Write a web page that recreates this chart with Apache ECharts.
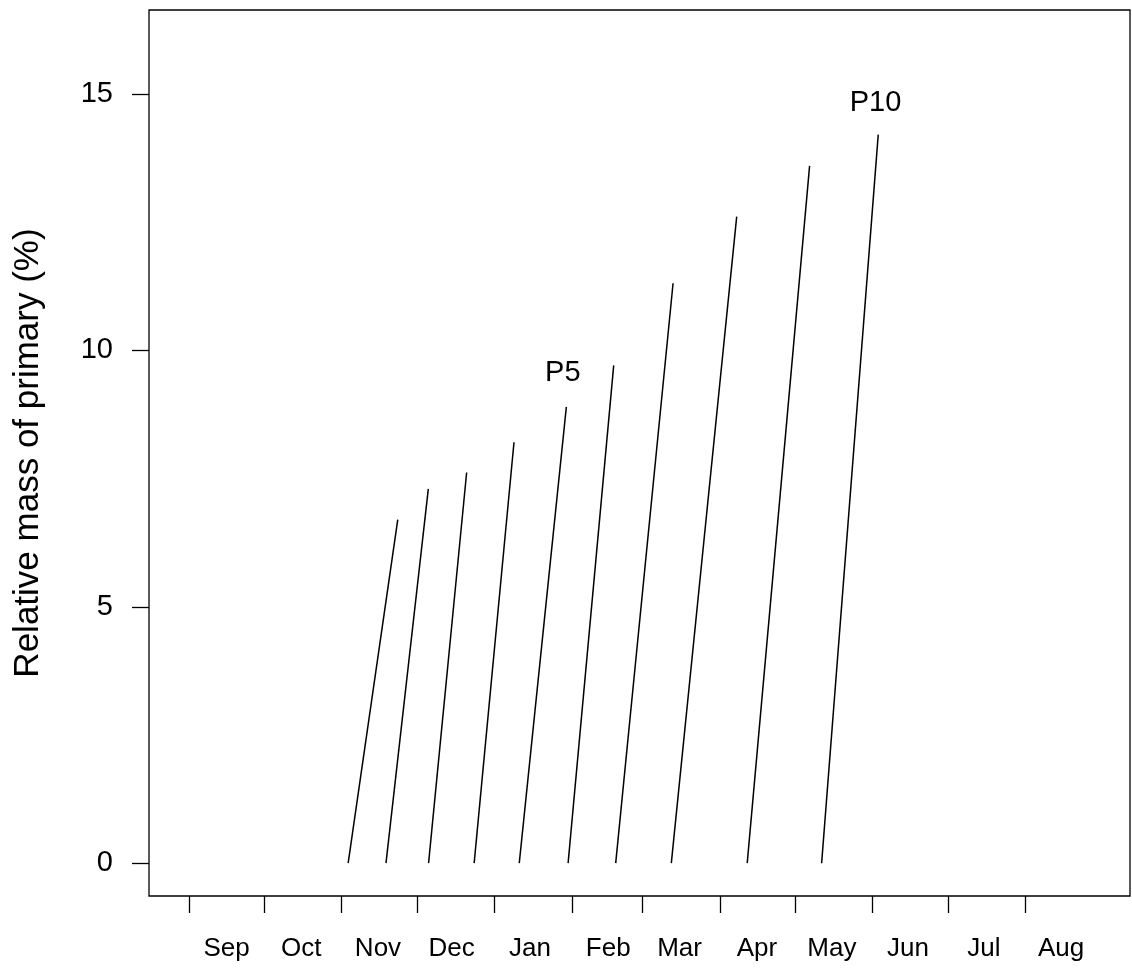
<!DOCTYPE html>
<html>
<head>
<meta charset="utf-8">
<title>Relative mass of primary</title>
<script src="https://cdn.jsdelivr.net/npm/echarts@6/dist/echarts.min.js"></script>
<style>
  html, body { margin: 0; padding: 0; background: #ffffff; }
  #chart { width: 1132px; height: 968px; }
</style>
</head>
<body>
<div id="chart"></div>
<script>
// Growth of each primary feather: day (counted from 1 Sep) when growth starts,
// day when it is fully grown, and its final relative mass (%).
const primaryStartDay = [63.6, 78.7, 95.7, 113.9, 131.9, 151.4, 170.4, 192.6, 222.9, 252.6];
const primaryEndDay   = [83.4, 95.6, 110.9, 129.8, 150.7, 169.6, 193.3, 218.7, 247.8, 275.2];
const primaryMass     = [6.70, 7.30, 7.62, 8.21, 8.90, 9.71, 11.31, 12.61, 13.60, 14.21];

// Feather annotations
const noteNames = ['P5', 'P10'];
const noteDay   = [149.5, 274.3];
const noteMass  = [9.55, 14.82];

// Month boundaries (day of season) and month label positions
const monthStartDay = [0, 30, 61, 91, 122, 153, 181, 212, 242, 273, 303, 334];
const monthLabelDay = [15.1, 44.9, 75.5, 104.9, 136.2, 167.4, 195.9, 226.8, 256.7, 287.1, 317.4, 348.2];
const monthNames    = ['Sep', 'Oct', 'Nov', 'Dec', 'Jan', 'Feb', 'Mar', 'Apr', 'May', 'Jun', 'Jul', 'Aug'];

const yTicks = [0, 5, 10, 15];

const FONT = '"Liberation Sans", Arial, sans-serif';

const series = primaryStartDay.map((s, i) => ({
  type: 'line',
  data: [[s, 0], [primaryEndDay[i], primaryMass[i]]],
  showSymbol: false,
  symbol: 'none',
  silent: true,
  lineStyle: { color: '#000000', width: 1.5 },
  animation: false
}));

series.push({
  type: 'scatter',
  symbolSize: 1,
  silent: true,
  animation: false,
  itemStyle: { opacity: 0 },
  data: noteNames.map((n, i) => ({ name: n, value: [noteDay[i], noteMass[i]] })),
  label: {
    show: true,
    position: [0, 0],
    align: 'center',
    verticalAlign: 'middle',
    formatter: p => p.name,
    color: '#000000',
    opacity: 1,
    fontFamily: FONT,
    fontSize: 29
  }
});

const labelLookup = {};
monthLabelDay.forEach((d, i) => { labelLookup[d.toFixed(1)] = monthNames[i]; });

const option = {
  animation: false,
  backgroundColor: '#ffffff',
  grid: {
    left: 149, right: 2, top: 10, bottom: 72,
    show: true, borderColor: '#000000', borderWidth: 1.3, backgroundColor: 'transparent'
  },
  xAxis: {
    type: 'value',
    min: -15.9,
    max: 375.7,
    splitLine: { show: false },
    axisLine: { show: false, onZero: false },
    axisTick: {
      show: true,
      customValues: monthStartDay,
      length: 17,
      lineStyle: { color: '#000000', width: 1.3 }
    },
    axisLabel: {
      customValues: monthLabelDay,
      formatter: v => labelLookup[Number(v).toFixed(1)] || '',
      margin: 40,
      color: '#000000',
      fontFamily: FONT,
      fontSize: 26
    }
  },
  yAxis: {
    type: 'value',
    min: -0.64,
    max: 16.64,
    name: 'Relative mass of primary (%)',
    nameLocation: 'middle',
    nameGap: 103,
    nameTextStyle: { color: '#000000', fontFamily: FONT, fontSize: 35 },
    splitLine: { show: false },
    axisLine: { show: false, onZero: false },
    axisTick: {
      show: true,
      customValues: yTicks,
      length: 17,
      lineStyle: { color: '#000000', width: 1.3 }
    },
    axisLabel: {
      customValues: yTicks,
      margin: 36,
      color: '#000000',
      fontFamily: FONT,
      fontSize: 29
    }
  },
  series: series
};

const chart = echarts.init(document.getElementById('chart'), null, { renderer: 'canvas' });
chart.setOption(option);
</script>
</body>
</html>
